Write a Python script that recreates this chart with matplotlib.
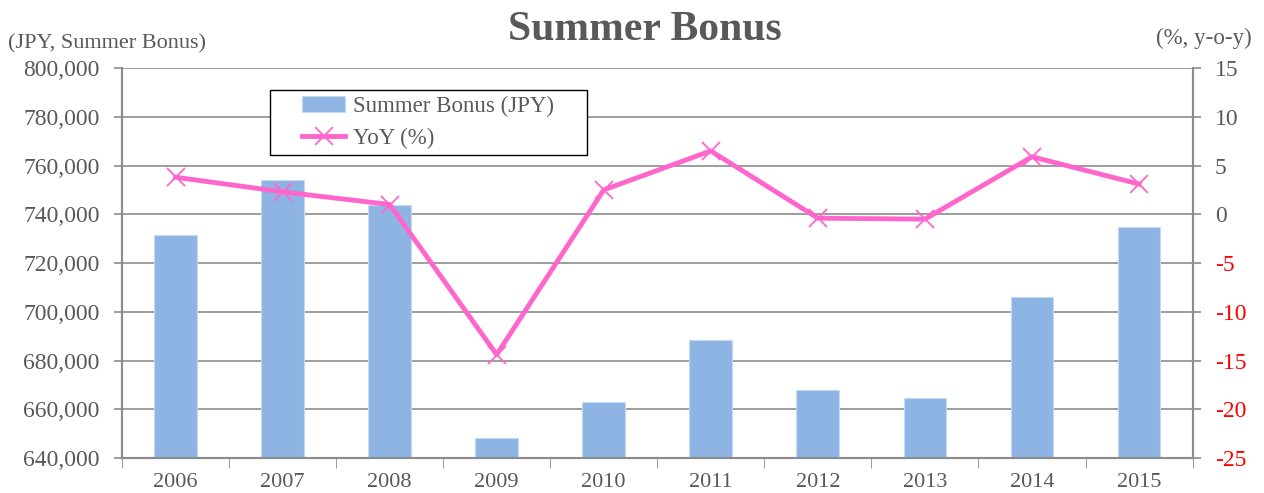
import matplotlib.pyplot as plt
from matplotlib.patches import Rectangle
import numpy as np

years = ['2006', '2007', '2008', '2009', '2010', '2011', '2012', '2013', '2014', '2015']
bonus = [731500, 754000, 743800, 648200, 663000, 688400, 667900, 664600, 706000, 734800]
yoy = [3.8, 2.3, 1.0, -14.4, 2.5, 6.5, -0.4, -0.5, 5.9, 3.1]

plt.rcParams['font.family'] = 'Liberation Serif'
gray = '#595959'

fig = plt.figure(figsize=(12.64, 4.93), dpi=100)
ax = fig.add_axes([0.0965, 0.071, 0.847, 0.791])
ax2 = ax.twinx()

x = np.arange(len(years))
bars = ax.bar(x, bonus, width=0.4, color='#8EB4E3', edgecolor='#C6D9F1', linewidth=0.8,
              label='Summer Bonus (JPY)', zorder=3)
line, = ax2.plot(x, yoy, color='#FF66CC', linewidth=3.5, marker='x', markersize=13,
                 markeredgewidth=1.3, label='YoY (%)', zorder=4)

ax.set_xlim(-0.5, len(years) - 0.5)
ax.set_ylim(640000, 800000)
ax.set_yticks(np.arange(640000, 800001, 20000))
ax.set_yticklabels([f'{v:,}' for v in range(640000, 800001, 20000)])
ax.grid(axis='y', color='#8C8C8C', linewidth=1.2, zorder=0)
ax.set_axisbelow(True)

ax2.set_ylim(-25, 15)
ax2.set_yticks(np.arange(-25, 16, 5))
ax2.set_yticklabels([str(v) for v in range(-25, 16, 5)])
for lab, v in zip(ax2.get_yticklabels(), range(-25, 16, 5)):
    lab.set_color('red' if v < 0 else gray)

ax.set_xticks(x)
ax.set_xticklabels(years)
ax.set_xticks(np.arange(-0.5, len(years), 1), minor=True)
ax.tick_params(axis='x', which='major', length=0, labelsize=16, labelcolor=gray, pad=11)
ax.tick_params(axis='x', which='minor', length=7, color='#8C8C8C', direction='out')
ax.tick_params(axis='y', labelsize=17, labelcolor=gray, length=6, color='#8C8C8C',
               width=1.2, pad=10)
ax2.tick_params(axis='y', labelsize=17, length=6, color='#8C8C8C', width=1.2, pad=10)

for a in (ax, ax2):
    for s in a.spines.values():
        s.set_color('#8C8C8C')
        s.set_linewidth(1.5)
ax.spines['top'].set_visible(False)
ax2.spines['top'].set_visible(False)

fig.text(0.51, 0.94, 'Summer Bonus', ha='center', va='center', fontsize=30,
         fontweight='bold', color=gray)
fig.text(0.006, 0.912, '(JPY, Summer Bonus)', ha='left', va='center', fontsize=16, color=gray)
fig.text(0.99, 0.922, '(%, y-o-y)', ha='right', va='center', fontsize=16.5, color=gray)

# legend frame drawn separately (wide side padding like the original)
ax2.add_patch(Rectangle((0.138, 0.777), 0.296, 0.167, transform=ax.transAxes,
                        facecolor='white', edgecolor='black', linewidth=1.0,
                        zorder=5, clip_on=False))
leg = ax2.legend(handles=[bars, line], loc='center', bbox_to_anchor=(0.286, 0.8605),
                 fontsize=16.5, frameon=False, borderpad=0, borderaxespad=0,
                 handlelength=1.9, handletextpad=0.35, labelspacing=0.45)
leg.set_zorder(6)
for t in leg.get_texts():
    t.set_color(gray)

fig.savefig('out.png', dpi=100)
